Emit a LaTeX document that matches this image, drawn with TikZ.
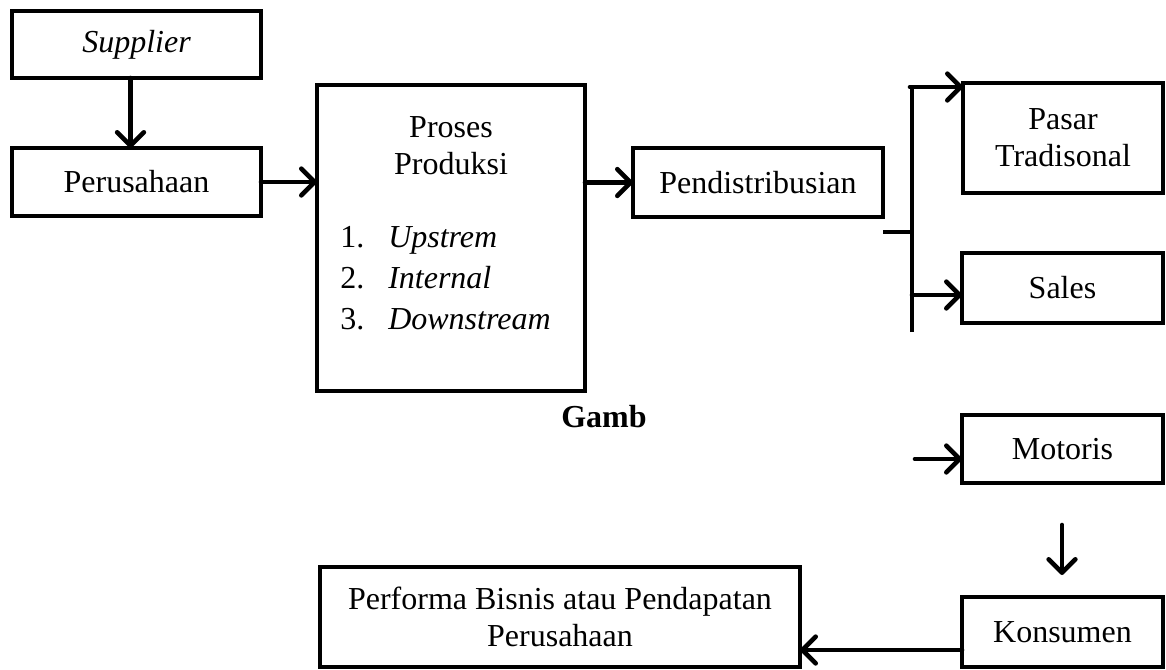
\documentclass[tikz,border=0pt]{standalone}
\usepackage{fontspec}
\setmainfont{Liberation Serif}
\usetikzlibrary{arrows.meta}
\begin{document}
\begin{tikzpicture}[x=0.75pt,y=-0.75pt,
  box/.style={draw,line width=3.2pt,inner sep=0pt,outer sep=0pt,align=center,
    font=\fontsize{24}{27.75}\selectfont},
  txt/.style={inner sep=0pt,font=\fontsize{24}{27.75}\selectfont},
  arr/.style={line width=3.5pt,line cap=round,-{Straight Barb[length=10pt,width=20pt,line width=3.5pt,line cap=round,line join=round]}},
  ln/.style={line width=3.5pt}]
\useasboundingbox (0,0) rectangle (1166,669);
% boxes
\node[box,minimum width=186.75pt,minimum height=50.25pt] (sup) at (136.5,44.5) {\itshape Supplier};
\node[box,minimum width=186.75pt,minimum height=51pt] (per) at (136.5,182) {Perusahaan};
\node[box,minimum width=201pt,minimum height=229.5pt] (pro) at (451,238) {};
\node[txt,align=center] (protitle) at (451,146) {Proses\\Produksi};
\node[txt,anchor=base west] (n1) at (340,247) {1.};
\node[txt,anchor=base west] (i1) at (388,247) {\itshape Upstrem};
\node[txt,anchor=base west] (n2) at (340,288) {2.};
\node[txt,anchor=base west] (i2) at (388,288) {\itshape Internal};
\node[txt,anchor=base west] (n3) at (340,329) {3.};
\node[txt,anchor=base west] (i3) at (388,329) {\itshape Downstream};
\node[box,minimum width=187.5pt,minimum height=51.75pt] (pen) at (758,182.5) {Pendistribusian};
\node[box,minimum width=150pt,minimum height=82.5pt] (pas) at (1063,138) {Pasar\\Tradisonal};
\node[box,minimum width=150.75pt,minimum height=52.5pt] (sal) at (1062.5,288) {Sales};
\node[box,minimum width=150.75pt,minimum height=51pt] (mot) at (1062.5,449) {Motoris};
\node[box,minimum width=150.75pt,minimum height=52.5pt] (kon) at (1062.5,632) {Konsumen};
\node[box,minimum width=360pt,minimum height=75pt] (perf) at (560,617) {Performa Bisnis atau Pendapatan\\Perusahaan};
\node[txt,font=\fontsize{24}{27.75}\selectfont\bfseries] (gamb) at (604,417) {Gamb};
% coordinates
\coordinate (stub) at (883,232);
\coordinate (bmid) at (912,232);
\coordinate (btop) at (912,87);
\coordinate (bbot) at (912,332);
\coordinate (bsal) at (912,295);
\coordinate (mstart) at (915,459);
\coordinate (dstart) at (1062,525);
\coordinate (dend) at (1062,575);
\coordinate (kline) at (960,650);
% connectors
\draw[arr] ([xshift=-4.5pt]sup.south) -- ([xshift=-4.5pt]per.north);
\draw[arr] (per.east) -- (per.east -| pro.west);
\draw[arr] (pro.east |- pen.west) -- (pen.west);
\draw[ln] (stub) -- (bmid);
\draw[ln] (bbot) -- (btop);
\draw[arr] ([xshift=-1.5pt]btop) -- (btop -| pas.west);
\draw[arr] (bsal) -- (bsal -| sal.west);
\draw[arr] (mstart) -- (mstart -| mot.west);
\draw[arr] (dstart) -- (dend);
\draw[arr] (kline -| kon.west) -- (kline -| perf.east);
\end{tikzpicture}
\end{document}
